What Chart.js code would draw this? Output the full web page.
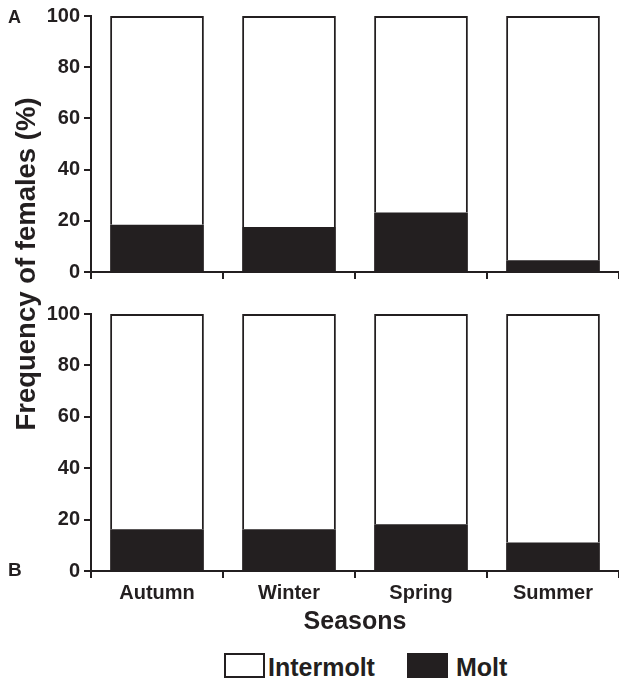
<!DOCTYPE html>
<html><head><meta charset="utf-8">
<script src="https://cdn.jsdelivr.net/npm/chart.js@4"></script>
<style>
body{margin:0;background:#fff;width:619px;height:683px;position:relative;overflow:hidden;font-family:"Liberation Sans",Arial,sans-serif;color:#231f20}
canvas{position:absolute;left:0}
#cA{top:0}
#cB{top:290px}
.lbl{position:absolute;font-weight:bold;white-space:nowrap}
#ytitle{left:-174px;top:249px;width:400px;height:30px;line-height:30px;font-size:27.5px;text-align:center;transform:rotate(-90deg)}
.box{position:absolute;box-sizing:border-box;width:41px;height:25px;top:653px;border:2px solid #231f20}
</style></head><body>
<canvas id="cA" width="619" height="288"></canvas>
<canvas id="cB" width="619" height="355"></canvas>
<div class="lbl" id="ytitle">Frequency of females (%)</div>
<div class="lbl" style="left:8px;top:8px;font-size:18px;line-height:18px">A</div>
<div class="lbl" style="left:8px;top:560px;font-size:19px;line-height:19px">B</div>
<div id="legend"></div>
<script>
const categories = ['Autumn', 'Winter', 'Spring', 'Summer'];
const moltA = [18.5, 17.6, 23.2, 4.6];
const intermoltA = [81.5, 82.4, 76.8, 95.4];
const moltB = [16.2, 16.2, 18.2, 11.1];
const intermoltB = [83.8, 83.8, 81.8, 88.9];
const yTicks = [0, 20, 40, 60, 80, 100];
const seriesNames = ['Intermolt', 'Molt'];
const xTitle = 'Seasons';

const DARK = '#231f20';
const FONT = '"Liberation Sans", Arial, sans-serif';

function makeChart(id, molt, inter, showLabels, padTop, axisH) {
  return new Chart(document.getElementById(id), {
    type: 'bar',
    data: {
      labels: categories,
      datasets: [
        {label: seriesNames[1], data: molt, backgroundColor: DARK, borderWidth: 0,
         barPercentage: 0.71, categoryPercentage: 1},
        {label: seriesNames[0], data: inter, backgroundColor: '#ffffff', borderColor: DARK, borderWidth: 2,
         barPercentage: 0.71, categoryPercentage: 1}
      ]
    },
    options: {
      responsive: false, animation: false, devicePixelRatio: 1,
      layout: {padding: {top: padTop, left: 0, right: 0, bottom: 0}},
      plugins: {legend: {display: false}, tooltip: {enabled: false}},
      scales: {
        x: {
          stacked: true, offset: true,
          grid: {display: true, drawOnChartArea: false, drawTicks: true, tickLength: 7, color: DARK, lineWidth: 2, offset: true},
          border: {display: true, color: DARK, width: 2},
          ticks: {display: showLabels, color: DARK, padding: 3, maxRotation: 0, autoSkip: false,
                  font: {family: FONT, size: 20, weight: 'bold'}},
          title: {display: showLabels, text: xTitle, color: DARK, padding: {top: 0, bottom: 8},
                  font: {family: FONT, size: 25, weight: 'bold'}},
          afterFit: s => { s.height = axisH; }
        },
        y: {
          stacked: true, min: 0, max: 100,
          afterBuildTicks: s => { s.ticks = yTicks.map(v => ({value: v})); },
          grid: {display: true, drawOnChartArea: false, drawTicks: true, tickLength: 7, color: DARK, lineWidth: 2},
          border: {display: true, color: DARK, width: 2},
          ticks: {color: DARK, padding: 4, font: {family: FONT, size: 20, weight: 'bold'}},
          afterFit: s => { s.width = 91; }
        }
      }
    }
  });
}

makeChart('cA', moltA, intermoltA, false, 15, 10);
makeChart('cB', moltB, intermoltB, true, 24, 74);

// legend
const legend = document.getElementById('legend');
const legendItems = [
  {name: seriesNames[0], fill: '#ffffff', boxX: 224, textX: 268},
  {name: seriesNames[1], fill: DARK, boxX: 407, textX: 456}
];
legendItems.forEach(it => {
  const b = document.createElement('div');
  b.className = 'box';
  b.style.left = it.boxX + 'px';
  b.style.background = it.fill;
  legend.appendChild(b);
  const t = document.createElement('div');
  t.className = 'lbl';
  t.style.left = it.textX + 'px';
  t.style.top = '655px';
  t.style.fontSize = '25px';
  t.style.lineHeight = '25px';
  t.textContent = it.name;
  legend.appendChild(t);
});
</script>
</body></html>
